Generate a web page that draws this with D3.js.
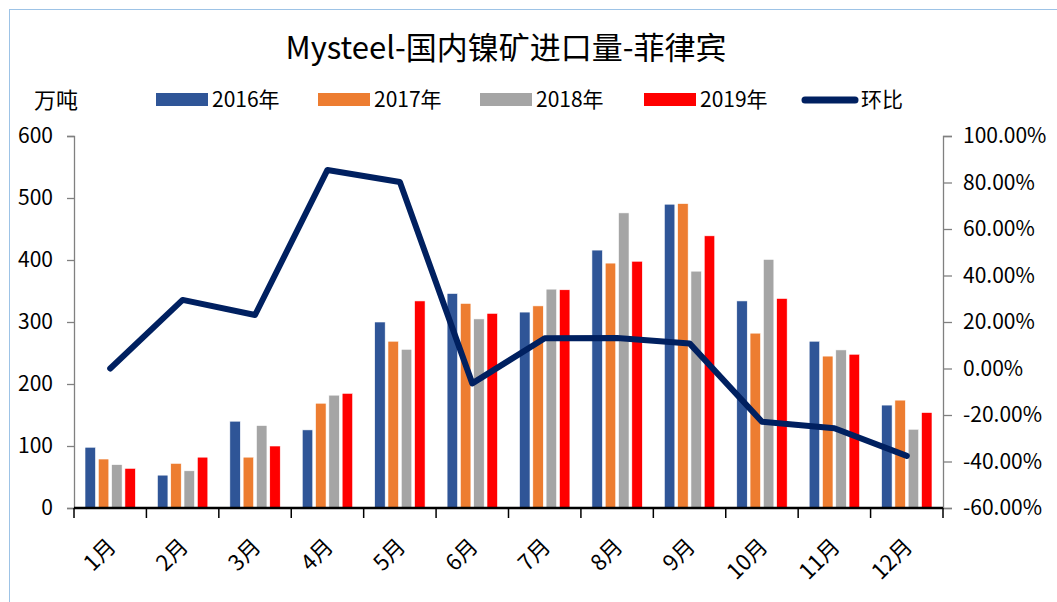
<html lang="zh">
<head>
    <meta charset="utf-8">
    <title>Mysteel-国内镍矿进口量-菲律宾</title>
    <script src="https://d3js.org/d3.v7.min.js"></script>
    <style>
        body { margin: 0; background: #fff; }
        text { font-family: "Noto Sans CJK SC", "Noto Sans", sans-serif; fill: #000; }
    </style>
</head>
<body>
<svg class="chart"></svg>
<script>
    'use strict';

    // data
    var months = ['1月', '2月', '3月', '4月', '5月', '6月', '7月', '8月', '9月', '10月', '11月', '12月'];
    var seriesNames = ['2016年', '2017年', '2018年', '2019年'];
    var v2016 = [98, 53, 140, 126, 300, 346, 316, 416, 490, 334, 269, 166];
    var v2017 = [79, 72, 82, 169, 269, 330, 326, 395, 491, 282, 245, 174];
    var v2018 = [70, 60, 133, 182, 256, 305, 353, 476, 382, 401, 255, 127];
    var v2019 = [64, 82, 100, 185, 334, 314, 352, 398, 439, 338, 248, 154];
    var mom = [0, 29.5, 23, 85.4, 80.2, -6.4, 13, 13.1, 10.8, -22.9, -25.7, -37.6];
    var leftTicks = [0, 100, 200, 300, 400, 500, 600];
    var rightTicks = [-60, -40, -20, 0, 20, 40, 60, 80, 100];

    var seriesValues = [v2016, v2017, v2018, v2019];
    var colors = ['#2F5597', '#ED7D31', '#A5A5A5', '#FF0000'];
    var lineColor = '#002060';

    var W = 1057, H = 602;
    var margin = {top: 136, bottom: 94, left: 74, right: 114};
    var width = W - margin.left - margin.right,
        height = H - margin.top - margin.bottom;

    var svg = d3.select('.chart').attr('width', W).attr('height', H);

    // outer frame
    svg.append('rect')
        .attr('x', 9.5).attr('y', 9.5)
        .attr('width', W + 10).attr('height', H + 10)
        .attr('fill', 'none')
        .attr('stroke', '#9DC3E6')
        .attr('stroke-width', 1);

    svg.append('text')
        .attr('x', 506).attr('y', 59)
        .attr('text-anchor', 'middle')
        .style('font-size', '31px')
        .text('Mysteel-国内镍矿进口量-菲律宾');

    var chart = svg.append('g')
        .attr('transform', 'translate(' + margin.left + ',' + margin.top + ')');

    var x0 = d3.scaleBand().domain(months).range([0, width]).padding(0);
    var groupW = x0.bandwidth() * 0.696;
    var x1 = d3.scaleBand().domain(seriesNames)
        .range([-groupW / 2, groupW / 2])
        .paddingInner(0.21).paddingOuter(0);
    var yL = d3.scaleLinear().domain([0, 600]).range([height, 0]);
    var yR = d3.scaleLinear().domain([-60, 100]).range([height, 0]);

    // bars
    var groups = chart.selectAll('.month').data(months).enter()
        .append('g')
        .attr('class', 'month')
        .attr('transform', function (d) { return 'translate(' + (x0(d) + x0.bandwidth() / 2) + ',0)'; });

    groups.selectAll('rect')
        .data(function (d, i) {
            return seriesNames.map(function (s, j) { return {s: s, j: j, v: seriesValues[j][i]}; });
        })
        .enter().append('rect')
        .attr('x', function (d) { return x1(d.s); })
        .attr('width', x1.bandwidth())
        .attr('y', function (d) { return yL(d.v); })
        .attr('height', function (d) { return height - yL(d.v); })
        .attr('fill', function (d) { return colors[d.j]; })
        .attr('stroke', '#fff')
        .attr('stroke-width', 0.6);

    // left axis
    var leftAxis = chart.append('g')
        .call(d3.axisLeft(yL).tickValues(leftTicks).tickSize(7).tickPadding(14));
    leftAxis.select('.domain').attr('stroke', '#808080').attr('stroke-width', 1.3);
    leftAxis.selectAll('.tick line').attr('stroke', '#808080').attr('stroke-width', 1.3);
    leftAxis.selectAll('text').style('font-size', '21px').style('font-family', '"Noto Sans CJK SC", sans-serif').attr('fill', '#000');

    // right axis
    var rightAxis = chart.append('g')
        .attr('transform', 'translate(' + width + ',0)')
        .call(d3.axisRight(yR).tickValues(rightTicks).tickSize(9).tickPadding(11)
            .tickFormat(function (d) { return d.toFixed(2) + '%'; }));
    rightAxis.select('.domain').attr('stroke', '#808080').attr('stroke-width', 1.3);
    rightAxis.selectAll('.tick line').attr('stroke', '#808080').attr('stroke-width', 1.3);
    rightAxis.selectAll('text').style('font-size', '21px').style('font-family', '"Noto Sans CJK SC", sans-serif').attr('fill', '#000');

    // bottom axis with ticks at month boundaries
    var bottom = chart.append('g').attr('transform', 'translate(0,' + height + ')');
    bottom.append('line')
        .attr('x1', 0).attr('x2', width)
        .attr('stroke', '#000').attr('stroke-width', 2.5);
    bottom.selectAll('.bt').data(months.concat(['end'])).enter()
        .append('line')
        .attr('x1', function (d, i) { return i * x0.step(); })
        .attr('x2', function (d, i) { return i * x0.step(); })
        .attr('y1', 0).attr('y2', 10)
        .attr('stroke', '#000').attr('stroke-width', 1.5);
    bottom.selectAll('.xl').data(months).enter()
        .append('text')
        .attr('text-anchor', 'end')
        .attr('transform', function (d) {
            return 'translate(' + (x0(d) + x0.bandwidth() / 2 + 7) + ',40) rotate(-45)';
        })
        .style('font-size', '22px')
        .text(function (d) { return d; });

    // month-on-month line
    var line = d3.line()
        .x(function (d, i) { return x0(months[i]) + x0.bandwidth() / 2; })
        .y(function (d) { return yR(d); });
    chart.append('path')
        .datum(mom)
        .attr('d', line)
        .attr('fill', 'none')
        .attr('stroke', lineColor)
        .attr('stroke-width', 6)
        .attr('stroke-linejoin', 'round')
        .attr('stroke-linecap', 'round');

    // legend
    svg.append('text').attr('x', 34).attr('y', 108).style('font-size', '22px').text('万吨');
    var legendX = [156, 318, 480, 644];
    seriesNames.forEach(function (s, j) {
        svg.append('rect')
            .attr('x', legendX[j]).attr('y', 93)
            .attr('width', 52).attr('height', 13)
            .attr('fill', colors[j]);
        svg.append('text')
            .attr('x', legendX[j] + 56).attr('y', 107)
            .style('font-size', '21px')
            .text(s);
    });
    svg.append('line')
        .attr('x1', 805).attr('x2', 855)
        .attr('y1', 100).attr('y2', 100)
        .attr('stroke', lineColor).attr('stroke-width', 7)
        .attr('stroke-linecap', 'round');
    svg.append('text').attr('x', 861).attr('y', 107).style('font-size', '21px').text('环比');
</script>
</body>
</html>
